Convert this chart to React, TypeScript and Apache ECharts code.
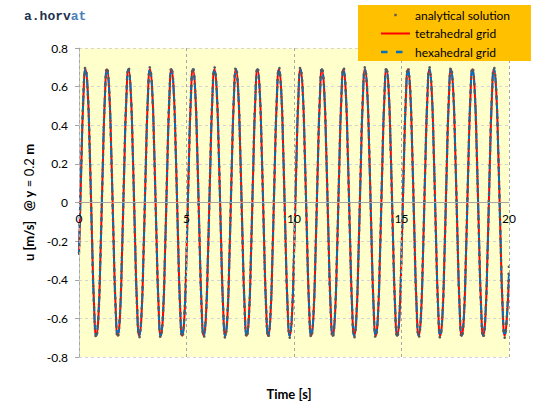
import React, { useEffect, useRef } from "react";
import * as echarts from "echarts";

// Time [s]
const time = [
  0, 0.1, 0.2, 0.3, 0.4, 0.5, 0.6, 0.7, 0.8, 0.9,
  1, 1.1, 1.2, 1.3, 1.4, 1.5, 1.6, 1.7, 1.8, 1.9,
  2, 2.1, 2.2, 2.3, 2.4, 2.5, 2.6, 2.7, 2.8, 2.9,
  3, 3.1, 3.2, 3.3, 3.4, 3.5, 3.6, 3.7, 3.8, 3.9,
  4, 4.1, 4.2, 4.3, 4.4, 4.5, 4.6, 4.7, 4.8, 4.9,
  5, 5.1, 5.2, 5.3, 5.4, 5.5, 5.6, 5.7, 5.8, 5.9,
  6, 6.1, 6.2, 6.3, 6.4, 6.5, 6.6, 6.7, 6.8, 6.9,
  7, 7.1, 7.2, 7.3, 7.4, 7.5, 7.6, 7.7, 7.8, 7.9,
  8, 8.1, 8.2, 8.3, 8.4, 8.5, 8.6, 8.7, 8.8, 8.9,
  9, 9.1, 9.2, 9.3, 9.4, 9.5, 9.6, 9.7, 9.8, 9.9,
  10, 10.1, 10.2, 10.3, 10.4, 10.5, 10.6, 10.7, 10.8, 10.9,
  11, 11.1, 11.2, 11.3, 11.4, 11.5, 11.6, 11.7, 11.8, 11.9,
  12, 12.1, 12.2, 12.3, 12.4, 12.5, 12.6, 12.7, 12.8, 12.9,
  13, 13.1, 13.2, 13.3, 13.4, 13.5, 13.6, 13.7, 13.8, 13.9,
  14, 14.1, 14.2, 14.3, 14.4, 14.5, 14.6, 14.7, 14.8, 14.9,
  15, 15.1, 15.2, 15.3, 15.4, 15.5, 15.6, 15.7, 15.8, 15.9,
  16, 16.1, 16.2, 16.3, 16.4, 16.5, 16.6, 16.7, 16.8, 16.9,
  17, 17.1, 17.2, 17.3, 17.4, 17.5, 17.6, 17.7, 17.8, 17.9,
  18, 18.1, 18.2, 18.3, 18.4, 18.5, 18.6, 18.7, 18.8, 18.9,
  19, 19.1, 19.2, 19.3, 19.4, 19.5, 19.6, 19.7, 19.8, 19.9,
  20,
];

// u [m/s] @ y = 0.2 m
const analytical = [
  -0.26, 0.17, 0.54, 0.70, 0.59, 0.26, -0.17, -0.54, -0.70, -0.59,
  -0.26, 0.17, 0.54, 0.70, 0.59, 0.26, -0.17, -0.54, -0.70, -0.59,
  -0.26, 0.17, 0.54, 0.70, 0.59, 0.26, -0.17, -0.54, -0.70, -0.59,
  -0.26, 0.17, 0.54, 0.70, 0.59, 0.26, -0.17, -0.54, -0.70, -0.59,
  -0.26, 0.17, 0.54, 0.70, 0.59, 0.26, -0.17, -0.54, -0.70, -0.59,
  -0.26, 0.17, 0.54, 0.70, 0.59, 0.26, -0.17, -0.54, -0.70, -0.59,
  -0.26, 0.17, 0.54, 0.70, 0.59, 0.26, -0.17, -0.54, -0.70, -0.59,
  -0.26, 0.17, 0.54, 0.70, 0.59, 0.26, -0.17, -0.54, -0.70, -0.59,
  -0.26, 0.17, 0.54, 0.70, 0.59, 0.26, -0.17, -0.54, -0.70, -0.59,
  -0.26, 0.17, 0.54, 0.70, 0.59, 0.26, -0.17, -0.54, -0.70, -0.59,
  -0.26, 0.17, 0.54, 0.70, 0.59, 0.26, -0.17, -0.54, -0.70, -0.59,
  -0.26, 0.17, 0.54, 0.70, 0.59, 0.26, -0.17, -0.54, -0.70, -0.59,
  -0.26, 0.17, 0.54, 0.70, 0.59, 0.26, -0.17, -0.54, -0.70, -0.59,
  -0.26, 0.17, 0.54, 0.70, 0.59, 0.26, -0.17, -0.54, -0.70, -0.59,
  -0.26, 0.17, 0.54, 0.70, 0.59, 0.26, -0.17, -0.54, -0.70, -0.59,
  -0.26, 0.17, 0.54, 0.70, 0.59, 0.26, -0.17, -0.54, -0.70, -0.59,
  -0.26, 0.17, 0.54, 0.70, 0.59, 0.26, -0.17, -0.54, -0.70, -0.59,
  -0.26, 0.17, 0.54, 0.70, 0.59, 0.26, -0.17, -0.54, -0.70, -0.59,
  -0.26, 0.17, 0.54, 0.70, 0.59, 0.26, -0.17, -0.54, -0.70, -0.59,
  -0.26, 0.17, 0.54, 0.70, 0.59, 0.26, -0.17, -0.54, -0.70, -0.59,
  -0.30,
];

const tetrahedral = [
  -0.27, 0.16, 0.53, 0.69, 0.59, 0.27, -0.16, -0.53, -0.69, -0.60,
  -0.27, 0.16, 0.53, 0.69, 0.59, 0.27, -0.16, -0.53, -0.69, -0.60,
  -0.27, 0.16, 0.53, 0.69, 0.59, 0.27, -0.16, -0.53, -0.69, -0.60,
  -0.27, 0.16, 0.53, 0.69, 0.59, 0.27, -0.16, -0.53, -0.69, -0.60,
  -0.27, 0.16, 0.53, 0.69, 0.59, 0.27, -0.16, -0.53, -0.69, -0.60,
  -0.27, 0.16, 0.53, 0.69, 0.59, 0.27, -0.16, -0.53, -0.69, -0.60,
  -0.27, 0.16, 0.53, 0.69, 0.59, 0.27, -0.16, -0.53, -0.69, -0.60,
  -0.27, 0.16, 0.53, 0.69, 0.59, 0.27, -0.16, -0.53, -0.69, -0.60,
  -0.27, 0.16, 0.53, 0.69, 0.59, 0.27, -0.16, -0.53, -0.69, -0.60,
  -0.27, 0.16, 0.53, 0.69, 0.59, 0.27, -0.16, -0.53, -0.69, -0.60,
  -0.27, 0.16, 0.53, 0.69, 0.59, 0.27, -0.16, -0.53, -0.69, -0.60,
  -0.27, 0.16, 0.53, 0.69, 0.59, 0.27, -0.16, -0.53, -0.69, -0.60,
  -0.27, 0.16, 0.53, 0.69, 0.59, 0.27, -0.16, -0.53, -0.69, -0.60,
  -0.27, 0.16, 0.53, 0.69, 0.59, 0.27, -0.16, -0.53, -0.69, -0.60,
  -0.27, 0.16, 0.53, 0.69, 0.59, 0.27, -0.16, -0.53, -0.69, -0.60,
  -0.27, 0.16, 0.53, 0.69, 0.59, 0.27, -0.16, -0.53, -0.69, -0.60,
  -0.27, 0.16, 0.53, 0.69, 0.59, 0.27, -0.16, -0.53, -0.69, -0.60,
  -0.27, 0.16, 0.53, 0.69, 0.59, 0.27, -0.16, -0.53, -0.69, -0.60,
  -0.27, 0.16, 0.53, 0.69, 0.59, 0.27, -0.16, -0.53, -0.69, -0.60,
  -0.27, 0.16, 0.53, 0.69, 0.59, 0.27, -0.16, -0.53, -0.69, -0.60,
  -0.38,
];

const hexahedral = [
  -0.27, 0.16, 0.54, 0.69, 0.59, 0.26, -0.16, -0.54, -0.69, -0.59,
  -0.27, 0.16, 0.54, 0.69, 0.59, 0.26, -0.16, -0.54, -0.69, -0.59,
  -0.27, 0.16, 0.54, 0.69, 0.59, 0.26, -0.16, -0.54, -0.69, -0.59,
  -0.27, 0.16, 0.54, 0.69, 0.59, 0.26, -0.16, -0.54, -0.69, -0.59,
  -0.27, 0.16, 0.54, 0.69, 0.59, 0.26, -0.16, -0.54, -0.69, -0.59,
  -0.27, 0.16, 0.54, 0.69, 0.59, 0.26, -0.16, -0.54, -0.69, -0.59,
  -0.27, 0.16, 0.54, 0.69, 0.59, 0.26, -0.16, -0.54, -0.69, -0.59,
  -0.27, 0.16, 0.54, 0.69, 0.59, 0.26, -0.16, -0.54, -0.69, -0.59,
  -0.27, 0.16, 0.54, 0.69, 0.59, 0.26, -0.16, -0.54, -0.69, -0.59,
  -0.27, 0.16, 0.54, 0.69, 0.59, 0.26, -0.16, -0.54, -0.69, -0.59,
  -0.27, 0.16, 0.54, 0.69, 0.59, 0.26, -0.16, -0.54, -0.69, -0.59,
  -0.27, 0.16, 0.54, 0.69, 0.59, 0.26, -0.16, -0.54, -0.69, -0.59,
  -0.27, 0.16, 0.54, 0.69, 0.59, 0.26, -0.16, -0.54, -0.69, -0.59,
  -0.27, 0.16, 0.54, 0.69, 0.59, 0.26, -0.16, -0.54, -0.69, -0.59,
  -0.27, 0.16, 0.54, 0.69, 0.59, 0.26, -0.16, -0.54, -0.69, -0.59,
  -0.27, 0.16, 0.54, 0.69, 0.59, 0.26, -0.16, -0.54, -0.69, -0.59,
  -0.27, 0.16, 0.54, 0.69, 0.59, 0.26, -0.16, -0.54, -0.69, -0.59,
  -0.27, 0.16, 0.54, 0.69, 0.59, 0.26, -0.16, -0.54, -0.69, -0.59,
  -0.27, 0.16, 0.54, 0.69, 0.59, 0.26, -0.16, -0.54, -0.69, -0.59,
  -0.27, 0.16, 0.54, 0.69, 0.59, 0.26, -0.16, -0.54, -0.69, -0.59,
  -0.36,
];

const seriesNames = ["analytical solution", "tetrahedral grid", "hexahedral grid"];
const xTicks = { min: 0, max: 20, interval: 5 };
const yTicks = { min: -0.8, max: 0.8, interval: 0.2 };

const FONT = "Lato, 'Open Sans', sans-serif";
const GRID = { left: 79, right: 51, top: 48, bottom: 63 };
const PLOT_HEIGHT = 420 - GRID.top - GRID.bottom;

export default function App() {
  const ref = useRef<HTMLDivElement>(null);

  useEffect(() => {
    document.body.style.margin = "0";
    if (!ref.current) return;
    const chart = echarts.init(ref.current, null, { renderer: "svg" });
    const pairs = (vals: number[]) => time.map((t, i) => [t, vals[i]]);

    chart.setOption({
      animation: false,
      backgroundColor: "#ffffff",
      textStyle: { fontFamily: FONT },
      title: [
        {
          text: "{a|a.horv}{b|at}",
          left: 19,
          top: 5,
          textStyle: {
            rich: {
              a: { fontFamily: "'Liberation Mono', monospace", fontWeight: "bold", fontSize: 13, color: "#1f3350" },
              b: { fontFamily: "'Liberation Mono', monospace", fontWeight: "bold", fontSize: 13, color: "#4a7ebb" },
            },
          },
        },
        {
          text: "Time [s]",
          left: 284,
          top: 382,
          textAlign: "center",
          textStyle: { fontFamily: FONT, fontSize: 13, fontWeight: "bold", color: "#000" },
        },
      ],
      graphic: [
        {
          type: "rect",
          z: 10,
          shape: { x: 358, y: 5, width: 173, height: 56 },
          style: { fill: "#ffc000" },
        },
      ],
      legend: {
        z: 20,
        orient: "vertical",
        left: 381,
        top: 8,
        padding: 0,
        itemWidth: 29,
        itemHeight: 14,
        itemGap: 4.5,
        textStyle: { fontFamily: FONT, fontSize: 12, color: "#000" },
        data: [
          { name: seriesNames[0], icon: "path://M0,0M29,14M13.3,5.8h2.4v2.4h-2.4z" },
          { name: seriesNames[1], icon: "path://M0,0M29,14M0,6h29v2h-29z" },
          { name: seriesNames[2], icon: "path://M0,0M29,14M0,5.8h6.5v2.4h-6.5zM15,5.8h6.5v2.4h-6.5z" },
        ],
      },
      grid: {
        ...GRID,
        show: true,
        backgroundColor: "#ffffcc",
        borderWidth: 0,
      },
      xAxis: {
        type: "value",
        min: xTicks.min,
        max: xTicks.max,
        interval: xTicks.interval,
        position: "bottom",
        offset: -PLOT_HEIGHT / 2,
        axisLine: { onZero: false, lineStyle: { color: "#a6a6a6", width: 1 } },
        axisTick: { show: false },
        axisLabel: { color: "#000", fontSize: 12, margin: 10, fontFamily: FONT },
        splitLine: { show: true, lineStyle: { color: "#a6a6a6", type: [3, 3], width: 1 } },
        z: 5,
      },
      yAxis: {
        type: "value",
        min: yTicks.min,
        max: yTicks.max,
        interval: yTicks.interval,
        name: "{b|u [m/s]   @ y} {r|= 0.2} {b|m}",
        nameLocation: "middle",
        nameRotate: 90,
        nameGap: 38,
        nameTextStyle: {
          fontFamily: FONT,
          fontSize: 13,
          color: "#000",
          rich: {
            b: { fontFamily: FONT, fontSize: 13, fontWeight: "bold", color: "#000" },
            r: { fontFamily: FONT, fontSize: 13, fontWeight: "normal", color: "#000" },
          },
        },
        axisLine: { show: true, onZero: false, lineStyle: { color: "#c8c8c8" } },
        axisTick: { show: true, length: 4, lineStyle: { color: "#a6a6a6" } },
        axisLabel: { color: "#000", fontSize: 12, margin: 11, fontFamily: FONT },
        splitLine: { show: true, lineStyle: { color: "#d4d4d4", type: [3, 3], width: 1 } },
      },
      series: [
        {
          name: seriesNames[1],
          type: "line",
          data: pairs(tetrahedral),
          smooth: true,
          symbol: "none",
          color: "#ff0000",
          lineStyle: { color: "#ff0000", width: 2 },
          z: 2,
        },
        {
          name: seriesNames[2],
          type: "line",
          data: pairs(hexahedral),
          smooth: true,
          symbol: "none",
          color: "#0070c0",
          lineStyle: { color: "#0070c0", width: 2, type: [5, 4] },
          z: 3,
        },
        {
          name: seriesNames[0],
          type: "line",
          data: pairs(analytical),
          smooth: true,
          symbol: "none",
          color: "#595959",
          lineStyle: { color: "#595959", width: 2.6, type: [0.1, 7], cap: "round" },
          z: 4,
        },
      ],
    });

    return () => chart.dispose();
  }, []);

  return <div ref={ref} style={{ width: 560, height: 420 }} />;
}
